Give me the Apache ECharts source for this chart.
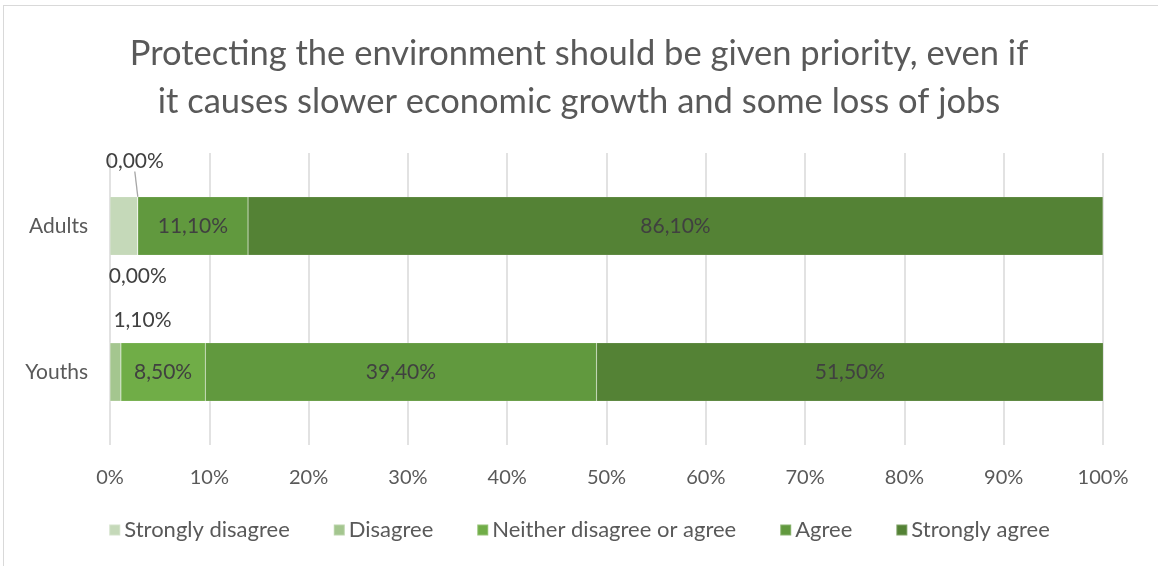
<!DOCTYPE html>
<html><head><meta charset="utf-8">
<script src="https://cdn.jsdelivr.net/npm/echarts@6/dist/echarts.min.js"></script>
<style>
html,body{margin:0;padding:0;background:#fff;}
#wrap{position:absolute;left:3px;top:5px;width:1160px;height:570px;border:1px solid #D9D9D9;box-sizing:border-box;}
#c{position:absolute;left:0;top:0;width:1158px;height:566px;}
</style></head>
<body><div id="wrap"></div><div id="c"></div>
<script>
const categories = ['Adults', 'Youths'];
const seriesNames = ['Strongly disagree', 'Disagree', 'Neither disagree or agree', 'Agree', 'Strongly agree'];
const stronglyDisagree = [2.8, 0.0];
const disagree = [0.0, 1.1];
const neither = [0.0, 8.5];
const agree = [11.1, 39.4];
const stronglyAgree = [86.1, 51.5];
const xTicks = [0, 10, 20, 30, 40, 50, 60, 70, 80, 90, 100];
const colors = ['#C5D9B9', '#A4C68F', '#70AD47', '#61993E', '#548235'];

const FONT = 'Lato';
const values = [stronglyDisagree, disagree, neither, agree, stronglyAgree];
const hidden = {'0-0': true, '0-1': true};
const moves = {'1-0': {dx: -3, dy: -65, line: true}, '2-0': {dx: 0, dy: 50}, '1-1': {dx: 27, dy: -52}};

const fmt = v => v.toFixed(2).replace('.', ',') + '%';

const series = seriesNames.map((name, si) => ({
  name: name,
  type: 'bar',
  stack: 'total',
  barWidth: '40%',
  itemStyle: {color: colors[si], borderColor: 'rgba(255,255,255,0.25)', borderWidth: 0.5},
  data: values[si].map((v, di) => {
    const key = si + '-' + di;
    const d = {value: v, label: {show: !hidden[key]}};
    if (moves[key] && moves[key].line) {
      d.labelLine = {show: true, lineStyle: {color: '#A6A6A6', width: 1.3}};
    }
    return d;
  }),
  label: {
    show: true, position: 'inside', color: '#404040', fontFamily: FONT, fontSize: 21,
    formatter: p => fmt(p.value)
  },
  labelLine: {show: false, lineStyle: {color: '#A6A6A6', width: 1.3}},
  labelLayout: function (p) {
    const m = moves[p.seriesIndex + '-' + p.dataIndex];
    return m ? {dx: m.dx, dy: m.dy} : {};
  },
  emphasis: {disabled: true}
}));

const chart = echarts.init(document.getElementById('c'), null, {renderer: 'canvas'});
chart.setOption({
  animation: false,
  textStyle: {fontFamily: FONT},
  title: {
    text: 'Protecting the environment should be given priority, even if\nit causes slower economic growth and some loss of jobs',
    left: 'center', top: 25,
    textStyle: {fontFamily: FONT, fontSize: 34.5, fontWeight: 'normal', color: '#595959', lineHeight: 48}
  },
  legend: {
    data: seriesNames, left: 'center', top: 514,
    icon: 'rect', itemWidth: 11, itemHeight: 11, itemGap: 43,
    textStyle: {fontFamily: FONT, fontSize: 22, color: '#595959', padding: [0, 0, 0, -1]}
  },
  grid: {left: 110, right: 55, top: 153, height: 292},
  xAxis: {
    type: 'value', min: 0, max: 100, interval: 10,
    axisLine: {show: false}, axisTick: {show: false},
    splitLine: {show: true, lineStyle: {color: '#D9D9D9', width: 1.5}},
    axisLabel: {margin: 23, color: '#595959', fontFamily: FONT, fontSize: 20,
      formatter: v => xTicks.includes(v) ? v + '%' : ''}
  },
  yAxis: {
    type: 'category', data: categories, inverse: true,
    axisLine: {show: false}, axisTick: {show: false},
    axisLabel: {margin: 22, color: '#595959', fontFamily: FONT, fontSize: 21}
  },
  series: series
});
</script></body></html>
